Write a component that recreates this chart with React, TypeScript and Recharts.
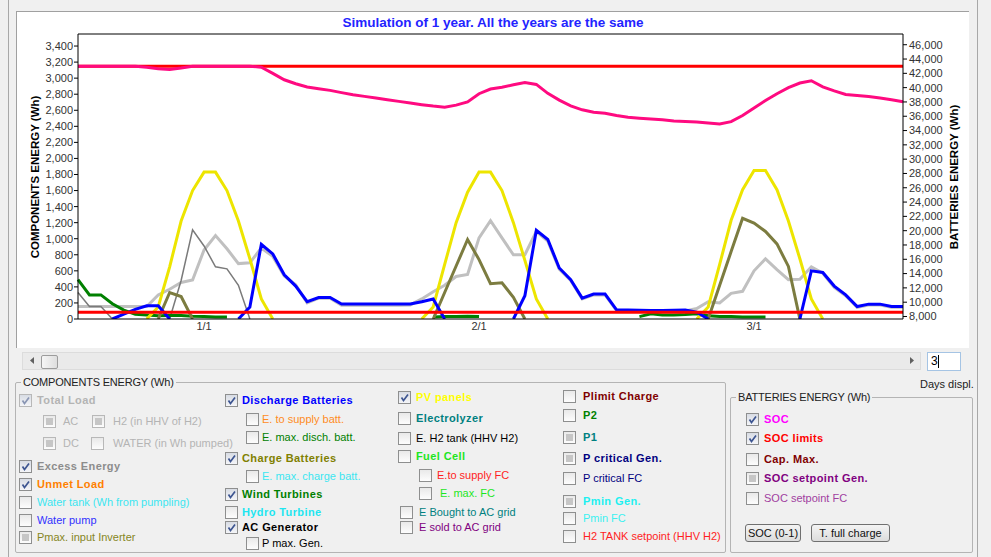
import React from 'react';
import { LineChart, Line, XAxis, YAxis, ReferenceLine } from 'recharts';

const N = null;

// hours shown in the 3 days window
const hours = [
  0, 1, 2, 3, 4, 5, 6, 7, 8, 9, 10, 11, 12, 13, 14, 15, 16, 17, 18, 19, 20, 21, 22, 23,
  24, 25, 26, 27, 28, 29, 30, 31, 32, 33, 34, 35, 36, 37, 38, 39, 40, 41, 42, 43, 44, 45, 46, 47,
  48, 49, 50, 51, 52, 53, 54, 55, 56, 57, 58, 59, 60, 61, 62, 63, 64, 65, 66, 67, 68, 69, 70, 71, 72,
];

const dayTickHours = [11, 35, 59];
const dayTickLabels = ['1/1', '2/1', '3/1'];

const leftMax = 3550;
const rightMin = 7650;
const rightMax = 47500;
const leftTicks = [0, 200, 400, 600, 800, 1000, 1200, 1400, 1600, 1800, 2000, 2200, 2400, 2600, 2800, 3000, 3200, 3400];
const rightTicks = [8000, 10000, 12000, 14000, 16000, 18000, 20000, 22000, 24000, 26000, 28000, 30000, 32000, 34000, 36000, 38000, 40000, 42000, 44000, 46000];

// SOC limits, drawn from first to last hour
const socLimitMax = [{ h: 0, v: 43000 }, { h: 72, v: 43000 }];
const socLimitMin = [{ h: 0, v: 8600 }, { h: 72, v: 8600 }];

// COMPONENTS ENERGY (Wh)
const totalLoad = [
  155, 155, 155, 155, 155, 155, 155, 300, 370, 455, 485, 860, 1040, 875, 690, 700, 885, 780, 535, 425, 200, 260, 260, 170,
  170, 170, 170, 170, 170, 175, 250, 340, 420, 530, 555, 1010, 1225, 1010, 800, 800, 1090, 970, 620, 480, 250, 300, 300, 105,
  100, 98, 95, 95, 98, 100, 130, 215, 200, 320, 345, 600, 750, 615, 490, 495, 650, 570, 395, 290, 145, 175, 175, 145, 145,
];
const excessEnergy = [
  330, 157, 157, 0, N, N, N, N, 0, 480, 1110, 910, 650, 625, 420, 0, N, N, N, N, N, N, N, N,
  N, N, N, N, N, N, N, N, N, N, N, N, N, N, N, N, N, N, N, N, N, N, N, N,
  N, N, N, N, N, N, N, N, N, N, N, N, N, N, N, N, N, N, N, N, N, N, N, N, N,
];
const windTurbines = [
  490, 300, 300, 190, 110, 60, 50, 40, 45, 45, 35, 30, 25, 25, N, N, N, N, N, N, N, N, N, N,
  N, N, N, N, N, N, N, 25, 30, 30, 35, 30, N, N, N, N, N, N, N, N, N, N, N, N,
  N, 30, 65, 50, 50, 55, 65, 40, 30, 30, 25, 25, 25, N, N, N, N, N, N, N, N, N, N, N, N,
];
const chargeBatteries = [
  N, N, N, N, N, N, N, 0, 330, 280, 0, N, N, N, N, N, N, N, N, N, N, N, N, N,
  N, N, N, N, N, N, N, 0, 330, 660, 990, 740, 440, 450, 270, 0, N, N, N, N, N, N, N, N,
  N, N, N, N, N, N, N, 0, 420, 840, 1255, 1195, 1090, 935, 655, 0, N, N, N, N, N, N, N, N, N,
];
const pvPanels = [
  N, N, N, N, N, N, 0, 150, 650, 1220, 1600, 1830, 1830, 1600, 1220, 750, 250, 0, N, N, N, N, N, N,
  N, N, N, N, N, N, 0, 150, 680, 1200, 1580, 1830, 1830, 1600, 1200, 730, 250, 0, N, N, N, N, N, N,
  N, N, N, N, N, N, 0, 150, 680, 1230, 1610, 1850, 1850, 1610, 1220, 750, 250, 0, N, N, N, N, N, N, N,
];
const dischargeBatteries = [
  N, N, N, 0, 60, 120, 165, 165, 0, N, N, N, N, N, 0, 150, 930, 810, 550, 410, 215, 268, 268, 187,
  187, 187, 187, 187, 187, 187, 215, 250, 0, N, N, N, N, N, 0, 290, 1105, 990, 635, 490, 260, 310, 310, 115,
  112, 108, 105, 105, 108, 112, 85, 0, N, N, N, N, N, N, N, 0, 600, 580, 410, 300, 155, 185, 185, 155, 155,
];

// BATTERIES ENERGY (Wh)
const soc = [
  43000, 43000, 43000, 43000, 43000, 43000, 42850, 42650, 42550, 42750, 43000, 43000, 43000, 43000, 43000, 43000, 42850, 42000, 41100, 40550, 40100, 39850, 39620, 39300,
  39000, 38780, 38550, 38300, 38080, 37850, 37620, 37420, 37260, 37550, 38000, 39150, 39800, 40050, 40400, 40700, 40450, 39200, 38250, 37450, 36900, 36550, 36420, 36100,
  35850, 35720, 35620, 35500, 35330, 35270, 35180, 35040, 34920, 35240, 36100, 37150, 38200, 39150, 40000, 40650, 40960, 40100, 39550, 39050, 38900, 38750, 38550, 38300, 38030,
];

const rows = hours.map((h, i) => ({
  h,
  load: totalLoad[i],
  excess: excessEnergy[i],
  wind: windTurbines[i],
  charge: chargeBatteries[i],
  pv: pvPanels[i],
  discharge: dischargeBatteries[i],
  soc: soc[i],
}));

const FONT = '"Liberation Sans", Arial, sans-serif';
const fmt = (v: number) => v.toLocaleString('en-US');

type BoxState = 'on' | 'off' | 'grey';

function Box({ x, cy, state, dim }: { x: number; cy: number; state: BoxState; dim?: boolean }) {
  return (
    <div
      style={{
        position: 'absolute',
        left: x,
        top: cy - 6.5,
        width: 11,
        height: 11,
        border: '1px solid ' + (dim ? '#B8B8B8' : '#8E8F8F'),
        background: state === 'on' ? 'linear-gradient(#D8DCE4, #F4F5F8)' : 'linear-gradient(#E9E9E9, #FDFDFD)',
      }}
    >
      {state === 'grey' && (
        <div style={{ position: 'absolute', left: 2, top: 2, width: 7, height: 7, background: '#C6C6C6' }} />
      )}
      {state === 'on' && (
        <svg width={11} height={11} style={{ position: 'absolute', left: 0, top: 0 }}>
          <polyline points="2.5,5.5 4.5,8.5 9,2.5" fill="none" stroke={dim ? '#8A96B4' : '#3D5591'} strokeWidth={1.7} />
        </svg>
      )}
    </div>
  );
}

function Check({ x, cy, tx, label, color, bold, state, dim }: {
  x: number; cy: number; tx: number; label: string; color: string; bold?: boolean; state: BoxState; dim?: boolean;
}) {
  return (
    <>
      <Box x={x} cy={cy} state={state} dim={dim} />
      <div
        style={{
          position: 'absolute',
          left: tx,
          top: cy - 7,
          height: 14,
          lineHeight: '14px',
          fontSize: 11,
          fontWeight: bold ? 700 : 400,
          letterSpacing: bold ? 0.4 : 0,
          color,
          whiteSpace: 'nowrap',
        }}
      >
        {label}
      </div>
    </>
  );
}

function Group({ x, y, w, h, title }: { x: number; y: number; w: number; h: number; title: string }) {
  return (
    <>
      <div style={{ position: 'absolute', left: x, top: y, width: w, height: h, border: '1px solid #B4B4B4', borderRadius: 2 }} />
      <div
        style={{
          position: 'absolute',
          left: x + 6,
          top: y - 7,
          lineHeight: '14px',
          fontSize: 11,
          letterSpacing: -0.2,
          color: '#222',
          background: '#F0F0F0',
          padding: '0 2px',
          whiteSpace: 'nowrap',
        }}
      >
        {title}
      </div>
    </>
  );
}

function Button({ x, y, w, label }: { x: number; y: number; w: number; label: string }) {
  return (
    <div
      style={{
        position: 'absolute',
        left: x,
        top: y,
        width: w,
        height: 16,
        border: '1px solid #707070',
        borderRadius: 3,
        background: 'linear-gradient(#F4F4F4, #DCDCDC)',
        fontSize: 11,
        lineHeight: '16px',
        textAlign: 'center',
        color: '#111',
      }}
    >
      {label}
    </div>
  );
}

export default function App() {
  return (
    <div
      style={{
        position: 'absolute',
        left: 0,
        top: 0,
        width: 991,
        height: 557,
        background: '#F0F0F0',
        fontFamily: FONT,
        overflow: 'hidden',
      }}
    >
      {/* frame lines */}
      <div style={{ position: 'absolute', left: 8, top: 0, width: 1, height: 557, background: '#A8A8A8' }} />
      <div style={{ position: 'absolute', left: 977, top: 0, width: 1, height: 557, background: '#A8A8A8' }} />

      {/* chart panel */}
      <div
        style={{
          position: 'absolute',
          left: 16,
          top: 11,
          width: 952,
          height: 336,
          background: '#FFFFFF',
          borderTop: '1px solid #A0A0A0',
          borderLeft: '1px solid #A0A0A0',
        }}
      />
      <div style={{ position: 'absolute', left: 17, top: 12 }}>
        <LineChart width={951} height={335} data={rows} margin={{ top: 22, right: 0, bottom: 8, left: 0 }}>
          <XAxis
            type="number"
            dataKey="h"
            domain={[0, 72]}
            ticks={dayTickHours}
            interval={0}
            tickFormatter={(v: number) => dayTickLabels[dayTickHours.indexOf(v)]}
            height={20}
            tickLine={false}
            tickSize={0}
            tickMargin={3}
            axisLine={{ stroke: '#000' }}
            tick={{ fontSize: 11, fill: '#333', fontFamily: FONT }}
          />
          <YAxis
            yAxisId="left"
            domain={[0, leftMax]}
            ticks={leftTicks}
            interval={0}
            width={61}
            tickSize={4}
            tickMargin={1}
            tickFormatter={fmt}
            axisLine={{ stroke: '#000' }}
            tickLine={{ stroke: '#000' }}
            tick={{ fontSize: 11, fill: '#333', fontFamily: FONT }}
            allowDataOverflow
          />
          <YAxis
            yAxisId="right"
            orientation="right"
            domain={[rightMin, rightMax]}
            ticks={rightTicks}
            interval={0}
            width={65}
            tickSize={4}
            tickMargin={2}
            tickFormatter={fmt}
            axisLine={{ stroke: '#000' }}
            tickLine={{ stroke: '#000' }}
            tick={{ fontSize: 11, fill: '#333', fontFamily: FONT }}
            allowDataOverflow
          />
          <ReferenceLine yAxisId="left" y={leftMax} stroke="#000" strokeWidth={1} />
          <Line yAxisId="left" dataKey="load" stroke="#C0C0C0" strokeWidth={3} dot={false} isAnimationActive={false} />
          <Line yAxisId="left" dataKey="excess" stroke="#7A7A7A" strokeWidth={1.5} dot={false} isAnimationActive={false} />
          <Line yAxisId="left" dataKey="wind" stroke="#008000" strokeWidth={3} dot={false} isAnimationActive={false} />
          <Line yAxisId="left" dataKey="charge" stroke="#7C7C40" strokeWidth={3} dot={false} isAnimationActive={false} />
          <Line yAxisId="left" dataKey="pv" stroke="#EDE500" strokeWidth={3} dot={false} isAnimationActive={false} />
          <Line yAxisId="left" dataKey="discharge" stroke="#0000FF" strokeWidth={3} dot={false} isAnimationActive={false} />
          <Line yAxisId="right" data={socLimitMin} dataKey="v" stroke="#FF0000" strokeWidth={3} dot={false} isAnimationActive={false} />
          <Line yAxisId="right" data={socLimitMax} dataKey="v" stroke="#FF0000" strokeWidth={3} dot={false} isAnimationActive={false} />
          <Line yAxisId="right" dataKey="soc" stroke="#FF0A80" strokeWidth={3} dot={false} isAnimationActive={false} />
        </LineChart>
      </div>

      {/* chart texts */}
      <div
        style={{
          position: 'absolute',
          left: 493,
          top: 22,
          transform: 'translate(-50%, -50%)',
          fontSize: 13.5,
          fontWeight: 700,
          color: '#2323FF',
          whiteSpace: 'nowrap',
        }}
      >
        Simulation of 1 year. All the years are the same
      </div>
      <div
        style={{
          position: 'absolute',
          left: 35,
          top: 177,
          transform: 'translate(-50%, -50%) rotate(-90deg)',
          fontSize: 11.5,
          fontWeight: 700,
          color: '#000',
          whiteSpace: 'nowrap',
        }}
      >
        COMPONENTS ENERGY (Wh)
      </div>
      <div
        style={{
          position: 'absolute',
          left: 954,
          top: 177,
          transform: 'translate(-50%, -50%) rotate(-90deg)',
          fontSize: 11.5,
          fontWeight: 700,
          color: '#000',
          whiteSpace: 'nowrap',
        }}
      >
        BATTERIES ENERGY (Wh)
      </div>

      {/* scrollbar */}
      <div style={{ position: 'absolute', left: 22, top: 352, width: 897, height: 16, background: '#EAEAEA', border: '1px solid #DCDCDC' }} />
      <svg style={{ position: 'absolute', left: 29, top: 357 }} width={6} height={8}>
        <polygon points="5,0 5,7 1,3.5" fill="#606060" />
      </svg>
      <div
        style={{
          position: 'absolute',
          left: 41,
          top: 355,
          width: 15,
          height: 12,
          border: '1px solid #9C9C9C',
          borderRadius: 2,
          background: 'linear-gradient(90deg, #F6F6F6, #DEDEDE)',
        }}
      />
      <svg style={{ position: 'absolute', left: 909, top: 357 }} width={6} height={8}>
        <polygon points="1,0 1,7 5,3.5" fill="#606060" />
      </svg>

      {/* days displayed */}
      <div style={{ position: 'absolute', left: 927, top: 352, width: 32, height: 17, background: '#FFF', border: '1px solid #A5C4E4' }}>
        <span style={{ position: 'absolute', left: 3, top: 1, fontSize: 12, lineHeight: '15px', color: '#000' }}>3</span>
        <div style={{ position: 'absolute', left: 10, top: 2, width: 1, height: 13, background: '#000' }} />
      </div>
      <div style={{ position: 'absolute', left: 920, top: 377, fontSize: 11, lineHeight: '14px', color: '#222', whiteSpace: 'nowrap' }}>
        Days displ.
      </div>

      {/* COMPONENTS ENERGY group */}
      <Group x={15} y={382} w={709} h={169} title="COMPONENTS ENERGY (Wh)" />
      <Check x={19} cy={400} tx={37} label="Total Load" color="#B4B4B4" bold state="on" dim />
      <Check x={43} cy={421} tx={63} label="AC" color="#B4B4B4" state="grey" dim />
      <Check x={92} cy={421} tx={113} label="H2 (in HHV of H2)" color="#B4B4B4" state="grey" dim />
      <Check x={43} cy={443} tx={63} label="DC" color="#B4B4B4" state="grey" dim />
      <Check x={91} cy={443} tx={113} label="WATER (in Wh pumped)" color="#B4B4B4" state="off" dim />
      <Check x={19} cy={466} tx={37} label="Excess Energy" color="#8C8C8C" bold state="on" />
      <Check x={19} cy={484} tx={37} label="Unmet Load" color="#FF8000" bold state="on" />
      <Check x={19} cy={502} tx={37} label="Water tank (Wh from pumpling)" color="#3CE6F0" state="off" />
      <Check x={19} cy={520} tx={37} label="Water pump" color="#3232FF" state="off" />
      <Check x={19} cy={537} tx={37} label="Pmax. input Inverter" color="#86861E" state="grey" />

      <Check x={225} cy={400} tx={242} label="Discharge Batteries" color="#0000FF" bold state="on" />
      <Check x={246} cy={419} tx={262} label="E. to supply batt." color="#FF8C1E" state="off" />
      <Check x={246} cy={437} tx={262} label="E. max. disch. batt." color="#008000" state="off" />
      <Check x={225} cy={458} tx={242} label="Charge Batteries" color="#808000" bold state="on" />
      <Check x={246} cy={476} tx={262} label="E. max. charge batt." color="#3CE6F0" state="off" />
      <Check x={225} cy={494} tx={242} label="Wind Turbines" color="#008000" bold state="on" />
      <Check x={225} cy={512} tx={242} label="Hydro Turbine" color="#1EE6F0" bold state="off" />
      <Check x={225} cy={527} tx={242} label="AC Generator" color="#000" bold state="on" />
      <Check x={246} cy={543} tx={262} label="P max. Gen." color="#000" state="off" />

      <Check x={398} cy={397} tx={416} label="PV panels" color="#FFFF00" bold state="on" />
      <Check x={398} cy={418} tx={416} label="Electrolyzer" color="#008080" bold state="off" />
      <Check x={398} cy={438} tx={416} label="E. H2 tank (HHV H2)" color="#000" state="off" />
      <Check x={398} cy={456} tx={416} label="Fuel Cell" color="#1EE61E" bold state="off" />
      <Check x={419} cy={475} tx={437} label="E.to supply FC" color="#FF1E1E" state="off" />
      <Check x={419} cy={493} tx={440} label="E. max. FC" color="#1EE61E" state="off" />
      <Check x={400} cy={512} tx={419} label="E Bought to AC grid" color="#008080" state="off" />
      <Check x={400} cy={527} tx={419} label="E sold to AC grid" color="#800080" state="off" />

      <Check x={563} cy={396} tx={583} label="Plimit Charge" color="#800000" bold state="off" />
      <Check x={563} cy={415} tx={583} label="P2" color="#008000" bold state="off" />
      <Check x={563} cy={437} tx={583} label="P1" color="#008080" bold state="grey" />
      <Check x={563} cy={458} tx={583} label="P critical Gen." color="#000080" bold state="grey" />
      <Check x={563} cy={478} tx={583} label="P critical FC" color="#000080" state="off" />
      <Check x={563} cy={501} tx={583} label="Pmin Gen." color="#1EF0F0" bold state="grey" />
      <Check x={563} cy={518} tx={583} label="Pmin FC" color="#3CF0F0" state="off" />
      <Check x={563} cy={536} tx={583} label="H2 TANK setpoint (HHV H2)" color="#FF1E1E" state="off" />

      {/* BATTERIES ENERGY group */}
      <Group x={730} y={397} w={241} h={154} title="BATTERIES ENERGY (Wh)" />
      <Check x={746} cy={419} tx={764} label="SOC" color="#FF00FF" bold state="on" />
      <Check x={746} cy={438} tx={764} label="SOC limits" color="#FF0000" bold state="on" />
      <Check x={746} cy={459} tx={764} label="Cap. Max." color="#800000" bold state="off" />
      <Check x={746} cy={478} tx={764} label="SOC setpoint Gen." color="#800080" bold state="grey" />
      <Check x={746} cy={498} tx={764} label="SOC setpoint FC" color="#A040A0" state="off" />
      <Button x={745} y={524} w={54} label="SOC (0-1)" />
      <Button x={811} y={524} w={77} label="T. full charge" />
    </div>
  );
}
